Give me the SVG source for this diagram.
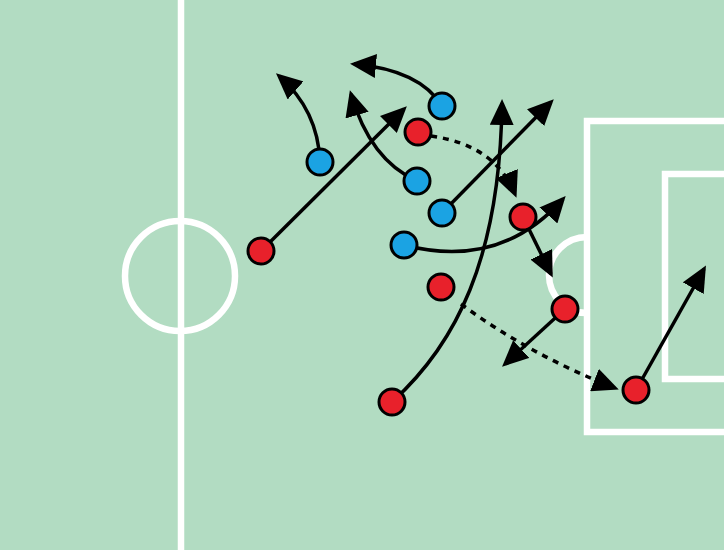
<svg xmlns="http://www.w3.org/2000/svg" width="724" height="550" viewBox="0 0 724 550">
<defs>
<style>
.pitch{fill:none;stroke:#ffffff;stroke-width:6.5}
.mv{fill:none;stroke:#000;stroke-width:3.5;marker-end:url(#ah)}
.ps{fill:none;stroke:#000;stroke-width:3.5;stroke-dasharray:6 6;marker-end:url(#ah)}
.blue{fill:#1ba3e3;stroke:#000;stroke-width:3}
.red{fill:#e8212b;stroke:#000;stroke-width:3}
</style>
<marker id="ah" viewBox="0 0 26 24" refX="22" refY="12" markerWidth="26" markerHeight="24" markerUnits="userSpaceOnUse" orient="auto">
<path d="M0,0 L26,12 L0,24 Z" fill="#000"/>
</marker>
</defs>
<rect x="0" y="0" width="724" height="550" fill="#b2dcc2"/>
<g id="pitch">
<line class="pitch" x1="181" y1="0" x2="181" y2="550"/>
<circle class="pitch" cx="180" cy="276" r="55"/>
<rect class="pitch" x="587" y="121" width="150" height="311"/>
<rect class="pitch" x="665" y="174" width="80" height="205"/>
<path class="pitch" d="M587,237 A38,38 0 0 0 587,313"/>
</g>
<g id="connectors">
<path class="mv" d="M320,162 Q318,110 279,76"/>
<path class="mv" d="M442,106 Q420,70 354,64"/>
<path class="mv" d="M417,181 Q370,160 351,94"/>
<path class="mv" d="M261,251 L404,109"/>
<path class="ps" d="M431,136 Q495,145 515,194"/>
<path class="mv" d="M442,213 L551,102"/>
<path class="mv" d="M392,402 C455,345 500,260 502,103"/>
<path class="mv" d="M404,245 Q500,270 563,199"/>
<path class="mv" d="M523,217 L551,274"/>
<path class="ps" d="M461,304 Q530,355 615,388"/>
<path class="mv" d="M565,309 L505,364"/>
<path class="mv" d="M636,390 L704,269"/>
</g>
<g id="b1"><circle class="blue" cx="442" cy="106" r="13"/></g>
<g id="b2"><circle class="blue" cx="320" cy="162" r="13"/></g>
<g id="b3"><circle class="blue" cx="417" cy="181" r="13"/></g>
<g id="b4"><circle class="blue" cx="442" cy="213" r="13"/></g>
<g id="b5"><circle class="blue" cx="404" cy="245" r="13"/></g>
<g id="r1"><circle class="red" cx="418" cy="132" r="13"/></g>
<g id="r2"><circle class="red" cx="261" cy="251" r="13"/></g>
<g id="r3"><circle class="red" cx="523" cy="217" r="13"/></g>
<g id="r4"><circle class="red" cx="441" cy="287" r="13"/></g>
<g id="r5"><circle class="red" cx="565" cy="309" r="13"/></g>
<g id="r6"><circle class="red" cx="636" cy="390" r="13"/></g>
<g id="r7"><circle class="red" cx="392" cy="402" r="13"/></g>
</svg>
